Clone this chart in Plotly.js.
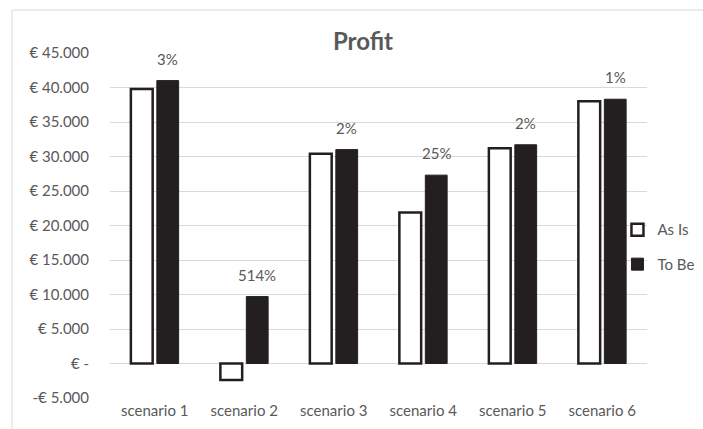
<!DOCTYPE html>
<html>
<head>
<meta charset="utf-8">
<script src="https://cdn.plot.ly/plotly-3.0.1.min.js"></script>
<style>html,body{margin:0;padding:0;background:#fff;}#chart{width:703px;height:429px;}</style>
</head>
<body>
<div id="chart"></div>
<script>
const categories = ["scenario 1", "scenario 2", "scenario 3", "scenario 4", "scenario 5", "scenario 6"];
const asIs = [39800, -2400, 30400, 21900, 31200, 38000];
const toBe = [41000, 9700, 31000, 27300, 31700, 38300];
const changeLabels = ["3%", "514%", "2%", "25%", "2%", "1%"];
const tickValues = [-5000, 0, 5000, 10000, 15000, 20000, 25000, 30000, 35000, 40000, 45000];
const tickLabels = ["-€ 5.000", "€ -", "€ 5.000", "€ 10.000", "€ 15.000", "€ 20.000", "€ 25.000", "€ 30.000", "€ 35.000", "€ 40.000", "€ 45.000"];

const FONT = "Lato, 'Open Sans', sans-serif";
const GREY = "#595959";

const traces = [
  {
    type: "bar", name: "As Is", x: categories, y: asIs,
    marker: {color: "#ffffff", line: {color: "#231f20", width: 2.5}},
    legendgroup: "a", hoverinfo: "x+y"
  },
  {
    type: "bar", name: "To Be", x: categories, y: toBe,
    marker: {color: "#231f20", line: {color: "#231f20", width: 1}},
    legendgroup: "b", hoverinfo: "x+y"
  }
];

const annotations = categories.map((c, i) => ({
  x: c, y: toBe[i], xref: "x", yref: "y",
  text: changeLabels[i], showarrow: false,
  xshift: 13, yshift: 11, yanchor: "bottom",
  font: {family: FONT, size: 15, color: GREY}
}));

const layout = {
  width: 703, height: 429,
  margin: {l: 110, r: 56, t: 53, b: 31, autoexpand: false},
  paper_bgcolor: "#ffffff", plot_bgcolor: "#ffffff",
  font: {family: FONT, size: 15, color: GREY},
  title: {text: "<b>Profit</b>", x: 363 / 703, xref: "container", xanchor: "center",
          y: 1 - 42 / 429, yref: "container", yanchor: "middle",
          font: {family: FONT, size: 24, color: GREY}},
  barmode: "group", bargap: 0.42, bargroupgap: 0.16,
  xaxis: {
    type: "category", showgrid: false, zeroline: false, showline: false,
    ticks: "", tickfont: {family: FONT, size: 15, color: GREY}, ticklabelstandoff: 2
  },
  yaxis: {
    range: [-5000, 45000], tickmode: "array", tickvals: tickValues, ticktext: tickLabels,
    showgrid: true, gridcolor: "#d9d9d9", gridwidth: 1, zeroline: false, showline: false,
    ticks: "", tickfont: {family: FONT, size: 15, color: GREY}, ticklabelstandoff: 20
  },
  showlegend: true,
  legend: {
    x: 0.945, xanchor: "left", y: 0.438, yanchor: "middle",
    traceorder: "grouped", tracegroupgap: 12, itemwidth: 30,
    font: {family: FONT, size: 15, color: GREY}, bgcolor: "rgba(0,0,0,0)"
  },
  annotations: annotations,
  shapes: [{
    type: "rect", xref: "paper", yref: "paper",
    x0: (12 - 110) / 537, x1: 1.2, y0: -0.3, y1: (398 - 10) / 345,
    line: {color: "#d9d9d9", width: 1}, fillcolor: "rgba(0,0,0,0)", layer: "below"
  }]
};

Plotly.newPlot("chart", traces, layout, {displayModeBar: false, staticPlot: true});
</script>
</body>
</html>
